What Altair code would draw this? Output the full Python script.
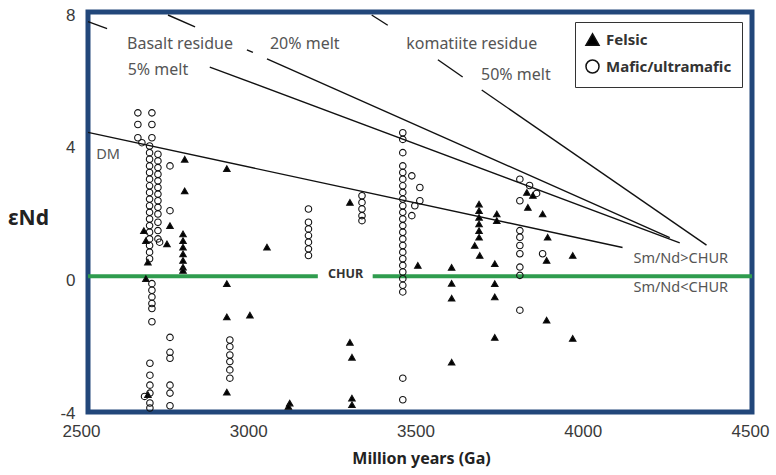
import altair as alt
import pandas as pd

# ---------------- data ----------------
x_ticks = [2500, 3000, 3500, 4000, 4500]
y_ticks = [-4, 0, 4, 8]

felsic_x = [2688, 2694, 2700, 2694, 2700, 2757, 2766, 2810, 2810,
            2805, 2805, 2805, 2805, 2805, 2805, 2805,
            2936, 2936, 2936, 3005, 2936, 3056, 3124, 3120,
            3304, 3304, 3310, 3310, 3310, 3507,
            3608, 3608, 3608, 3608,
            3690, 3690, 3690, 3690, 3690, 3690, 3677, 3692,
            3743, 3743, 3737, 3737, 3737, 3737,
            3833, 3851, 3836, 3880, 3895, 3892, 3892, 3970, 3970]
felsic_y = [1.5, 1.2, 0.55, 0.05, -3.45, 1.1, 1.65, 3.65, 2.7,
            1.4, 1.2, 1.0, 0.8, 0.6, 0.4, 0.3,
            3.37, -0.1, -1.1, -1.05, -3.37, 1.0, -3.7, -3.8,
            2.35, -1.87, -2.32, -3.55, -3.75, 0.45,
            0.39, -0.09, -0.54, -2.47,
            2.3, 2.1, 1.9, 1.7, 1.5, 1.3, 1.05, 0.75,
            2.0, 1.8, 0.5, -0.1, -0.5, -1.72,
            2.65, 2.56, 2.2, 2.0, 1.3, 0.6, -1.2, 0.75, -1.75]

mafic_x = [2670, 2670, 2670, 2712, 2712, 2712, 2682,
           2705, 2705, 2705, 2705, 2705, 2705, 2705, 2705, 2705,
           2705, 2705, 2705, 2705, 2705, 2705, 2705, 2705, 2705,
           2730, 2730, 2730, 2730, 2730, 2730, 2730, 2730, 2730,
           2730, 2730, 2730, 2730,
           2766, 2766, 2735,
           2712, 2712, 2712, 2712, 2712, 2712,
           2766, 2766, 2766,
           2706, 2706, 2706, 2706, 2706, 2706, 2690,
           2766, 2766, 2766,
           2945, 2945, 2945, 2945, 2945, 2945,
           3180, 3180, 3180, 3180, 3180, 3180, 3180,
           3340, 3340, 3340, 3340, 3340,
           3462, 3462, 3462, 3462, 3462, 3462, 3462, 3462, 3462, 3462,
           3462, 3462, 3462, 3462, 3462, 3462, 3462, 3462, 3462, 3462,
           3462, 3462, 3462,
           3489, 3489, 3498, 3513, 3513,
           3462, 3462,
           3812, 3812, 3812, 3812, 3812, 3812, 3812, 3812, 3812,
           3841, 3862, 3880]
mafic_y = [5.05, 4.7, 4.3, 5.05, 4.7, 4.3, 4.15,
           4.05, 3.85, 3.65, 3.45, 3.25, 3.05, 2.85, 2.65, 2.45,
           2.25, 2.05, 1.85, 1.65, 1.45, 1.25, 1.05, 0.85, 0.65,
           3.8, 3.6, 3.4, 3.2, 3.0, 2.8, 2.6, 2.4, 2.2,
           2.0, 1.75, 1.5, 1.25,
           3.45, 2.1, 1.15,
           -0.1, -0.3, -0.5, -0.7, -0.85, -1.25,
           -1.72, -2.17, -2.35,
           -2.5, -2.86, -3.16, -3.4, -3.7, -3.85, -3.5,
           -3.16, -3.4, -3.78,
           -1.8, -2.0, -2.25, -2.45, -2.7, -2.95,
           2.15, 1.75, 1.55, 1.35, 1.15, 0.95, 0.75,
           2.55, 2.35, 2.15, 1.95, 1.8,
           4.45, 4.25, 3.85, 3.45, 3.25, 3.05, 2.85, 2.65, 2.45, 2.25,
           2.05, 1.85, 1.65, 1.45, 1.25, 1.05, 0.85, 0.65, 0.45, 0.25,
           0.05, -0.15, -0.35,
           3.15, 1.95, 2.25, 2.8, 2.4,
           -2.95, -3.6,
           3.05, 2.4, 1.5, 1.3, 1.05, 0.8, 0.4, 0.15, -0.9,
           2.86, 2.62, 0.8]

# model lines (visible pieces, interrupted by the text labels)
line_seg = ["dm", "dm",
            "m5a", "m5a", "m5b", "m5b",
            "m20a", "m20a", "m20b", "m20b", "m20c", "m20c",
            "m50a", "m50a", "m50b", "m50b", "m50c", "m50c"]
line_x = [2521, 4119,
          2521, 2578, 2885, 4290,
          2760, 2841, 2996, 3014, 3056, 4260,
          3369, 3417, 3567, 3641, 3698, 4370]
line_y = [4.46, 0.99,
          7.80, 7.59, 6.43, 1.13,
          8.00, 7.64, 6.95, 6.87, 6.68, 1.29,
          8.00, 7.69, 6.65, 6.13, 5.74, 1.06]

# CHUR reference line (gap for its label)
chur_seg = ["a", "a", "b", "b"]
chur_x = [2521, 3208, 3372, 4506]
chur_y = [0.12, 0.12, 0.12, 0.12]

ann_text = ["Basalt residue", "20% melt", "5% melt", "komatiite residue", "50% melt"]
ann_x = [2796, 3169, 2730, 3668, 3800]
ann_y = [7.14, 7.14, 6.33, 7.14, 6.2]

side_text = ["DM", "Sm/Nd>CHUR", "Sm/Nd<CHUR"]
side_x = [2581, 4293, 4293]
side_y = [3.77, 0.63, -0.24]

chur_label = ["CHUR"]
chur_label_x = [3291]
chur_label_y = [0.18]

# ---------------- build tables ----------------
pts = pd.DataFrame({
    "x": felsic_x + mafic_x,
    "y": felsic_y + mafic_y,
    "type": ["Felsic"] * len(felsic_x) + ["Mafic/ultramafic"] * len(mafic_x),
})
lines = pd.DataFrame({"x": line_x, "y": line_y, "seg": line_seg})
chur = pd.DataFrame({"x": chur_x, "y": chur_y, "seg": chur_seg})
ann = pd.DataFrame({"x": ann_x, "y": ann_y, "t": ann_text})
side = pd.DataFrame({"x": side_x, "y": side_y, "t": side_text})
churlab = pd.DataFrame({"x": chur_label_x, "y": chur_label_y, "t": chur_label})

W, H = 664, 400
xs = alt.Scale(domain=[2500, 4500], range=[-7, 662], nice=False, zero=False)
ys = alt.Scale(domain=[-4, 8], range=[401, 3], nice=False, zero=False)

xaxis = alt.Axis(values=x_ticks, format="d", title="Million years (Ga)", grid=False, domain=False,
                 ticks=False, labelFontSize=17, labelColor="#3a3a3a", labelFont="Liberation Sans",
                 labelPadding=11, labelFlush=False, labelOverlap=False,
                 titleFont="Noto Sans", titleFontSize=16, titleFontWeight="bold",
                 titleColor="#222222", titlePadding=11, titleX=333)
yaxis = alt.Axis(values=y_ticks, labelExpr="'' + datum.value", title="εNd", grid=False,
                 domain=False, ticks=False,
                 labelFontSize=17, labelColor="#3a3a3a", labelFont="Liberation Sans",
                 labelPadding=13, labelFlush=False, labelOverlap=False,
                 titleFont="Noto Sans", titleFontSize=21, titleFontWeight="bold",
                 titleColor="#222222", titleAngle=0, titleX=-60, titleY=206,
                 titleAlign="center", titleBaseline="middle")

X = alt.X("x:Q", scale=xs, axis=xaxis)
Y = alt.Y("y:Q", scale=ys, axis=yaxis)

chur_layer = alt.Chart(chur).mark_line(color="#2f9c4e", strokeWidth=4).encode(
    x=X, y=Y, detail="seg:N")

line_layer = alt.Chart(lines).mark_line(color="#111111", strokeWidth=1.4).encode(
    x=X, y=Y, detail="seg:N")

legend = alt.Legend(title=None, orient="none", legendX=487, legendY=10,
                    strokeColor="#333333", fillColor="white", padding=10,
                    symbolSize=170, labelFontSize=15, labelFontWeight="bold",
                    labelFont="Noto Sans", labelColor="#333333", rowPadding=7,
                    symbolStrokeWidth=1.5, labelOffset=6)

pt_layer = alt.Chart(pts).mark_point(filled=True, stroke="#111111", strokeWidth=1.1, size=42,
                                     opacity=1).encode(
    x=X, y=Y,
    shape=alt.Shape("type:N", scale=alt.Scale(domain=["Felsic", "Mafic/ultramafic"],
                                              range=["triangle-up", "circle"]), legend=legend),
    fill=alt.Fill("type:N", scale=alt.Scale(domain=["Felsic", "Mafic/ultramafic"],
                                            range=["#000000", "transparent"]), legend=legend),
)

ann_layer = alt.Chart(ann).mark_text(font="Noto Sans", fontSize=16, color="#555555",
                                     align="center", baseline="middle").encode(
    x=X, y=Y, text="t:N")
side_layer = alt.Chart(side).mark_text(font="Noto Sans", fontSize=14.5, color="#555555",
                                       align="center", baseline="middle").encode(
    x=X, y=Y, text="t:N")
churlab_layer = alt.Chart(churlab).mark_text(font="Noto Sans", fontSize=12.5, fontWeight="bold",
                                             color="#333333", align="center",
                                             baseline="middle").encode(
    x=X, y=Y, text="t:N")

chart = alt.layer(chur_layer, line_layer, pt_layer, ann_layer, side_layer, churlab_layer).properties(
    width=W, height=H,
    autosize=alt.AutoSizeParams(type="none"),
    padding={"left": 88, "top": 12, "right": 24, "bottom": 63},
    background="white",
).configure_view(stroke="#22477a", strokeWidth=5)

chart.save("out.html", embed_options={"renderer": "svg", "actions": False})
